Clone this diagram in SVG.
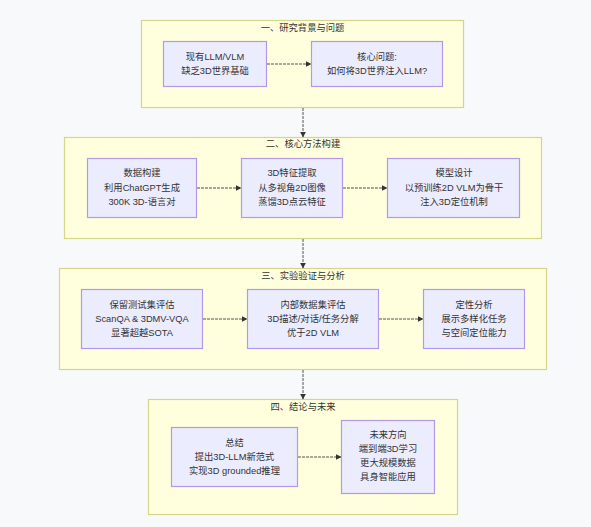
<svg xmlns="http://www.w3.org/2000/svg" width="591" height="527" viewBox="0 0 591 527">
<style>
.bg{fill:#f8f9fb}
.cl{fill:#ffffde;stroke:#d6d68a;stroke-width:1.2}
.nd{fill:#ececff;stroke:#b49ae6;stroke-width:1.2}
text{font-family:"Liberation Sans","Noto Sans CJK SC",sans-serif;font-size:9.3px;fill:#333;text-anchor:middle;dominant-baseline:central}
.ed{stroke:#555;stroke-width:1;stroke-dasharray:3 1;fill:none}
</style>
<defs>
<marker id="ah" viewBox="0 0 10 10" refX="9" refY="5" markerWidth="6" markerHeight="6" orient="auto" markerUnits="userSpaceOnUse">
<path d="M0,0 L10,5 L0,10 z" fill="#333"/>
</marker>
</defs>
<rect class="bg" x="0" y="0" width="591" height="527"/>

<g id="cluster1">
<rect class="cl" x="141.5" y="20.5" width="322" height="87"/>
<text x="302.5" y="28">一、研究背景与问题</text>
</g>
<g id="cluster2">
<rect class="cl" x="64.5" y="137.5" width="477" height="101"/>
<text x="303" y="144">二、核心方法构建</text>
</g>
<g id="cluster3">
<rect class="cl" x="59.5" y="268.5" width="487" height="101"/>
<text x="303" y="276">三、实验验证与分析</text>
</g>
<g id="cluster4">
<rect class="cl" x="148.5" y="399.5" width="309" height="115"/>
<text x="303" y="407">四、结论与未来</text>
</g>

<g id="connectors">
<line class="ed" x1="267" y1="64" x2="311" y2="64" marker-end="url(#ah)"/>
<line class="ed" x1="197" y1="188" x2="241" y2="188" marker-end="url(#ah)"/>
<line class="ed" x1="343" y1="188" x2="387" y2="188" marker-end="url(#ah)"/>
<line class="ed" x1="203" y1="319" x2="247" y2="319" marker-end="url(#ah)"/>
<line class="ed" x1="379" y1="319" x2="423" y2="319" marker-end="url(#ah)"/>
<line class="ed" x1="298" y1="457" x2="341" y2="457" marker-end="url(#ah)"/>
<line class="ed" x1="303" y1="108" x2="303" y2="137" marker-end="url(#ah)"/>
<line class="ed" x1="303" y1="239" x2="303" y2="268" marker-end="url(#ah)"/>
<line class="ed" x1="303" y1="370" x2="303" y2="399" marker-end="url(#ah)"/>
</g>

<g id="n_bg1">
<rect class="nd" x="163.5" y="41.5" width="103" height="45"/>
<text x="215" y="57">现有LLM/VLM</text>
<text x="215" y="71">缺乏3D世界基础</text>
</g>
<g id="n_bg2">
<rect class="nd" x="311.5" y="41.5" width="131" height="45"/>
<text x="377" y="57">核心问题:</text>
<text x="377" y="71">如何将3D世界注入LLM?</text>
</g>

<g id="n_m1">
<rect class="nd" x="87.5" y="158.5" width="109" height="59"/>
<text x="142" y="173">数据构建</text>
<text x="142" y="188">利用ChatGPT生成</text>
<text x="142" y="202">300K 3D-语言对</text>
</g>
<g id="n_m2">
<rect class="nd" x="241.5" y="158.5" width="101" height="59"/>
<text x="292" y="173">3D特征提取</text>
<text x="292" y="188">从多视角2D图像</text>
<text x="292" y="202">蒸馏3D点云特征</text>
</g>
<g id="n_m3">
<rect class="nd" x="387.5" y="158.5" width="132" height="59"/>
<text x="454" y="173">模型设计</text>
<text x="454" y="188">以预训练2D VLM为骨干</text>
<text x="454" y="202">注入3D定位机制</text>
</g>

<g id="n_e1">
<rect class="nd" x="81.5" y="289.5" width="121" height="59"/>
<text x="142" y="305">保留测试集评估</text>
<text x="142" y="319">ScanQA &amp; 3DMV-VQA</text>
<text x="142" y="333">显著超越SOTA</text>
</g>
<g id="n_e2">
<rect class="nd" x="247.5" y="289.5" width="131" height="59"/>
<text x="313" y="305">内部数据集评估</text>
<text x="313" y="319">3D描述/对话/任务分解</text>
<text x="313" y="333">优于2D VLM</text>
</g>
<g id="n_e3">
<rect class="nd" x="423.5" y="289.5" width="101" height="59"/>
<text x="474" y="305">定性分析</text>
<text x="474" y="319">展示多样化任务</text>
<text x="474" y="333">与空间定位能力</text>
</g>

<g id="n_c1">
<rect class="nd" x="171.5" y="427.5" width="126" height="59"/>
<text x="234.5" y="443">总结</text>
<text x="234.5" y="457">提出3D-LLM新范式</text>
<text x="234.5" y="471">实现3D grounded推理</text>
</g>
<g id="n_c2">
<rect class="nd" x="341.5" y="420.5" width="93" height="73"/>
<text x="388" y="435">未来方向</text>
<text x="388" y="449">端到端3D学习</text>
<text x="388" y="463">更大规模数据</text>
<text x="388" y="477">具身智能应用</text>
</g>
</svg>
